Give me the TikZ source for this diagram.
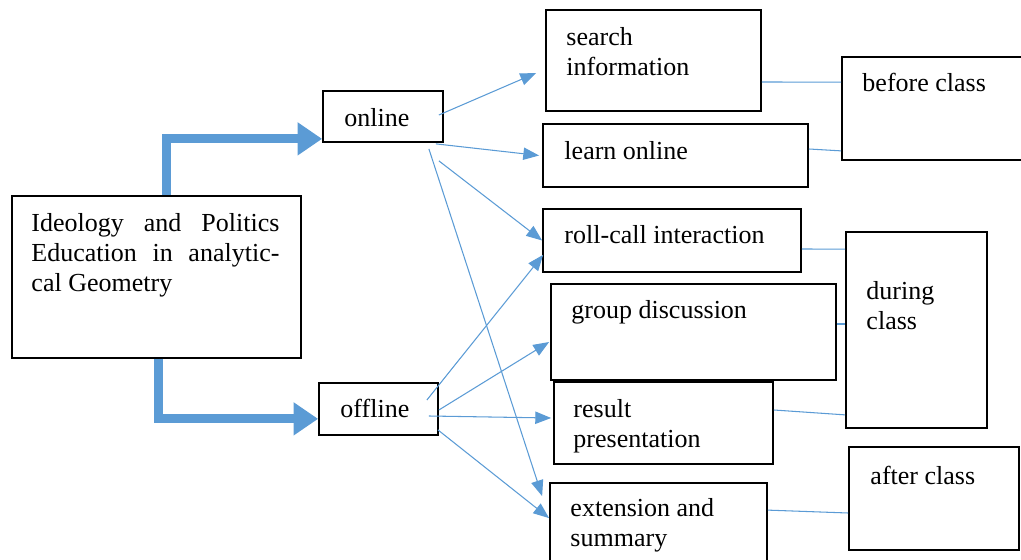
\documentclass[tikz,border=0pt]{standalone}
\usepackage{fontspec}
\setmainfont{Liberation Serif}
\usetikzlibrary{arrows.meta,calc,fit}

\definecolor{flowblue}{RGB}{91,155,213}
\tikzset{
  box/.style={draw, line width=1pt, inner sep=0pt},
  txt/.style={anchor=north west, inner sep=0pt, align=left, font=\fontsize{14.8pt}{17pt}\selectfont},
  bigarrow/.style={flowblue, line width=5pt, -{Triangle[length=14pt,width=18pt]}},
  thinarrow/.style={flowblue, line width=0.6pt, -{Triangle[length=9pt,width=7pt]}},
  link/.style={flowblue, line width=0.6pt},
}

\begin{document}
\begin{tikzpicture}[x=0.02cm, y=-0.02cm]
        \clip (0,0) rectangle (1021,560);
        % boxes
        \node[box, fit={(12,196) (301,358)}] (main) {};
        \node[box, fit={(323,91) (443,142)}] (online) {};
        \node[box, fit={(319,383) (438,435)}] (offline) {};
        \node[box, fit={(546,10) (761,111)}] (search) {};
        \node[box, fit={(543,124) (808,187)}] (learn) {};
        \node[box, fit={(543,209) (801,272)}] (rollcall) {};
        \node[box, fit={(551,284) (836,380)}] (group) {};
        \node[box, fit={(554,382) (773,464)}] (result) {};
        \node[box, fit={(550,483) (767,580)}] (extension) {};
        \node[box, fit={(842,57) (1040,160)}] (before) {};
        \node[box, fit={(846,232) (987,428)}] (during) {};
        \node[box, fit={(849,447) (1019,550)}] (after) {};

        % texts
        \node[txt, text width=4.96cm, align=justify] (maintxt) at ([shift={(20,18)}]main.north west)
            {Ideology and Politics\linebreak Education in analytic-\linebreak cal Geometry};
        \node[txt] (onlinetxt) at ([shift={(22,18)}]online.north west) {online};
        \node[txt] (offlinetxt) at ([shift={(22,17)}]offline.north west) {offline};
        \node[txt] (searchtxt) at ([shift={(21,18)}]search.north west) {search\\information};
        \node[txt] (learntxt) at ([shift={(22,18)}]learn.north west) {learn online};
        \node[txt] (rollcalltxt) at ([shift={(22,17)}]rollcall.north west) {roll-call interaction};
        \node[txt] (grouptxt) at ([shift={(21,17)}]group.north west) {group discussion};
        \node[txt] (resulttxt) at ([shift={(20,18)}]result.north west) {result\\presentation};
        \node[txt] (extensiontxt) at ([shift={(21,16)}]extension.north west) {extension and\\summary};
        \node[txt] (beforetxt) at ([shift={(21,17)}]before.north west) {before class};
        \node[txt] (duringtxt) at ([shift={(21,50)}]during.north west) {during\\class};
        \node[txt] (aftertxt) at ([shift={(22,20)}]after.north west) {after class};

        % thick arrows
        \draw[bigarrow] ([shift={(10,0)}]main.north) |- ([shift={(0,-4)}]online.south west);
        \draw[bigarrow] ([shift={(2,0)}]main.south) |- ([shift={(0,-17)}]offline.south west);

        % online / offline to activities
        \draw[thinarrow] ([shift={(-5,-1.5)}]online.east) -- ([shift={(-9,12.5)}]search.west);
        \draw[thinarrow] ([shift={(-8,1)}]online.south east) -- ([shift={(-3,0)}]learn.west);
        \draw[thinarrow] ([shift={(-5,18)}]online.south east) -- (rollcall.west);
        \draw[thinarrow] ([shift={(-15,6)}]online.south east) -- ([shift={(-7,14)}]extension.north west);
        \draw[thinarrow] ([shift={(-12,-9)}]offline.east) -- ([shift={(1,-18)}]rollcall.south west);
        \draw[thinarrow] ([shift={(0,1)}]offline.east) -- ([shift={(-1,10)}]group.west);
        \draw[thinarrow] ([shift={(-10,7)}]offline.east) -- ([shift={(-2,-5)}]result.west);
        \draw[thinarrow] ([shift={(-1,-6)}]offline.south east) -- ([shift={(0,36)}]extension.north west);

        % activities to phases
        \draw[link] ([shift={(0,21.5)}]search.east) -- ([shift={(0,26)}]before.north west);
        \draw[link] ([shift={(0,-6.5)}]learn.east) -- ([shift={(0,-10)}]before.south west);
        \draw[link] ([shift={(0,8.5)}]rollcall.east) -- ([shift={(0,18)}]during.north west);
        \draw[link] ([shift={(0,-8)}]group.east) -- ([shift={(0,-6)}]during.west);
        \draw[link] ([shift={(0,-13)}]result.east) -- ([shift={(0,-14)}]during.south west);
        \draw[link] ([shift={(0,28)}]extension.north east) -- ([shift={(0,14.5)}]after.west);
\end{tikzpicture}
\end{document}
